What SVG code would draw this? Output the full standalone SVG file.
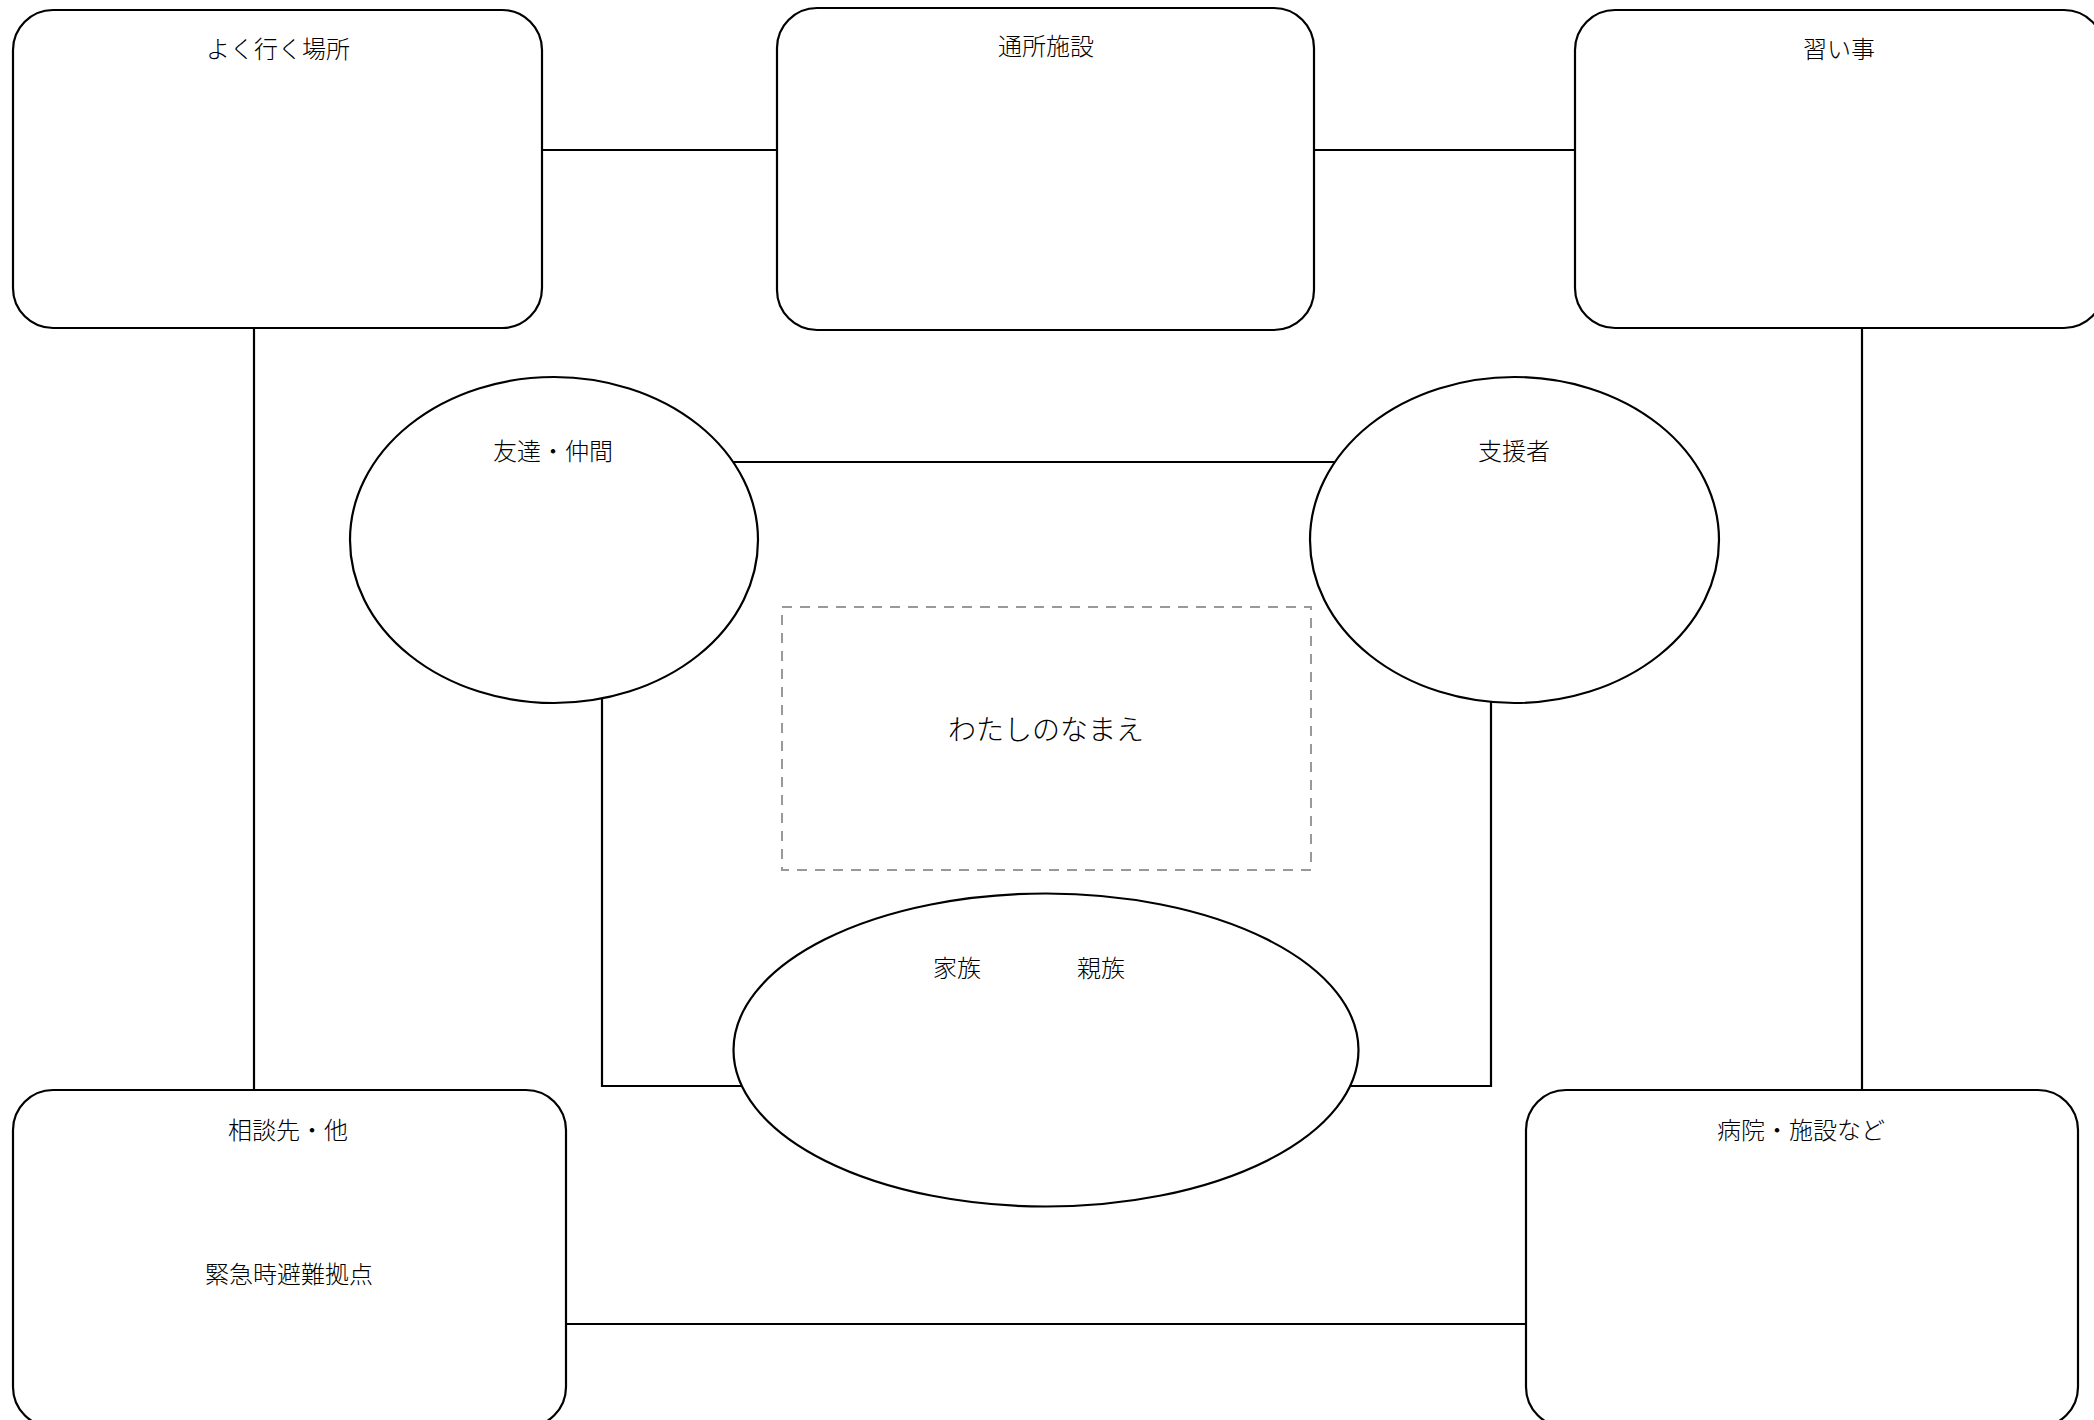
<svg xmlns="http://www.w3.org/2000/svg" width="2094" height="1420" viewBox="0 0 2094 1420">
<style>
.box{fill:#fff;stroke:#000;stroke-width:2.2}
.ell{fill:#fff;stroke:#000;stroke-width:2.2}
.conn{fill:none;stroke:#000;stroke-width:2.2}
.name{fill:none;stroke:#999;stroke-width:2;stroke-dasharray:10 8}
text{font-family:"Noto Sans CJK JP","Noto Sans",sans-serif;font-weight:300;fill:#000;text-anchor:middle}
.lbl{font-size:24px}
.big{font-size:28px}
</style>
<rect width="2094" height="1420" fill="#fff"/>
<g id="connectors">
<line class="conn" x1="542" y1="150" x2="777" y2="150"/>
<line class="conn" x1="1314" y1="150" x2="1575" y2="150"/>
<line class="conn" x1="254" y1="328" x2="254" y2="1090"/>
<line class="conn" x1="1862" y1="328" x2="1862" y2="1090"/>
<line class="conn" x1="566" y1="1324" x2="1526" y2="1324"/>
<line class="conn" x1="733" y1="462" x2="1336" y2="462"/>
<polyline class="conn" points="602,698 602,1086 745,1086"/>
<polyline class="conn" points="1347,1086 1491,1086 1491,702"/>
</g>
<g id="node-yokuiku">
<rect class="box" x="13" y="10" width="529" height="318" rx="40" ry="40"/>
<text class="lbl" x="278" y="58">よく行く場所</text>
</g>
<g id="node-tsusho">
<rect class="box" x="777" y="8" width="537" height="322" rx="40" ry="40"/>
<text class="lbl" x="1046" y="55">通所施設</text>
</g>
<g id="node-naraigoto">
<rect class="box" x="1575" y="10" width="529" height="318" rx="40" ry="40"/>
<text class="lbl" x="1839" y="58">習い事</text>
</g>
<g id="node-tomodachi">
<ellipse class="ell" cx="554" cy="540" rx="204" ry="163"/>
<text class="lbl" x="553" y="460">友達・仲間</text>
</g>
<g id="node-shiensha">
<ellipse class="ell" cx="1514.5" cy="540" rx="204.5" ry="163"/>
<text class="lbl" x="1514" y="460">支援者</text>
</g>
<g id="node-namae">
<rect class="name" x="782" y="607" width="529" height="263"/>
<text class="big" x="1046" y="740">わたしのなまえ</text>
</g>
<g id="node-kazoku">
<ellipse class="ell" cx="1046" cy="1050" rx="312.5" ry="156.5"/>
<text class="lbl" x="957" y="977">家族</text>
<text class="lbl" x="1101" y="977">親族</text>
</g>
<g id="node-soudan">
<rect class="box" x="13" y="1090" width="553" height="337" rx="40" ry="40"/>
<text class="lbl" x="288" y="1139">相談先・他</text>
<text class="lbl" x="289" y="1283">緊急時避難拠点</text>
</g>
<g id="node-byouin">
<rect class="box" x="1526" y="1090" width="552" height="337" rx="40" ry="40"/>
<text class="lbl" x="1801" y="1139">病院・施設など</text>
</g>
</svg>
